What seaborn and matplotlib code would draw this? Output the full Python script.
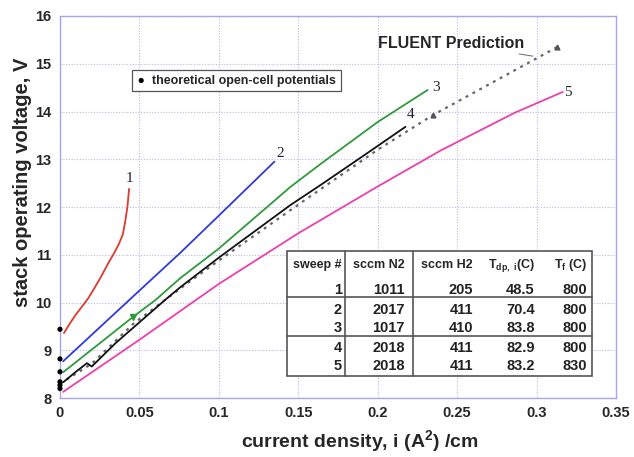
import pandas as pd
import numpy as np
import matplotlib.pyplot as plt
import seaborn as sns

# ── Data ────────────────────────────────────────────────────
sweep1_i = [0.0025, 0.006, 0.01, 0.014, 0.018, 0.022, 0.026, 0.03, 0.034,
            0.037, 0.0395, 0.041, 0.0425, 0.0435]
sweep1_v = [9.36, 9.55, 9.75, 9.92, 10.1, 10.32, 10.55, 10.8, 11.03,
            11.22, 11.42, 11.68, 12.02, 12.38]

sweep2_i = [0.002, 0.05, 0.0757, 0.1, 0.135]
sweep2_v = [8.77, 10.25, 11.04, 11.82, 12.95]

sweep3_i = [0.002, 0.046, 0.06, 0.0757, 0.1, 0.145, 0.164, 0.2, 0.2314]
sweep3_v = [8.54, 9.7, 10.05, 10.51, 11.13, 12.42, 12.9, 13.78, 14.45]

sweep4_i = [0.002, 0.01, 0.017, 0.02, 0.035, 0.066, 0.0757, 0.1, 0.145, 0.164, 0.19, 0.2175]
sweep4_v = [8.33, 8.55, 8.73, 8.66, 9.15, 10.05, 10.32, 10.94, 12.04, 12.46, 13.05, 13.68]

sweep5_i = [0.002, 0.05, 0.1, 0.15, 0.2, 0.24, 0.286, 0.3165]
sweep5_v = [8.13, 9.22, 10.39, 11.45, 12.43, 13.19, 13.97, 14.41]

fluent_i = [0.0, 0.02, 0.046, 0.078, 0.1, 0.15, 0.2, 0.235, 0.313]
fluent_v = [8.3, 8.72, 9.55, 10.35, 10.88, 12.05, 13.2, 13.93, 15.35]

ocv_i = [0.0, 0.0, 0.0, 0.0, 0.0, 0.0]
ocv_v = [9.44, 8.82, 8.55, 8.34, 8.27, 8.2]

sweep_names = ['1', '2', '3', '4', '5']
sweep_colors = ['#dd3a30', '#2f3bd8', '#2f9a3c', '#111111', '#ec3fae']

# table contents
tab_header = ['sweep #', 'sccm N2', 'sccm H2', r'T$_{\rm dp,\ i}$(C)', r'T$_{\rm f}$ (C)']
tab_sweep = ['1', '2', '3', '4', '5']
tab_n2 = ['1011', '2017', '1017', '2018', '2018']
tab_h2 = ['205', '411', '410', '411', '411']
tab_tdp = ['48.5', '70.4', '83.8', '82.9', '83.2']
tab_tf = ['800', '800', '800', '800', '830']

# ── Build long-form frame ───────────────────────────────────
frames = []
for name, ii, vv in zip(sweep_names,
                        [sweep1_i, sweep2_i, sweep3_i, sweep4_i, sweep5_i],
                        [sweep1_v, sweep2_v, sweep3_v, sweep4_v, sweep5_v]):
    frames.append(pd.DataFrame({'i': ii, 'V': vv, 'sweep': name}))
df = pd.concat(frames, ignore_index=True)
df_fluent = pd.DataFrame({'i': fluent_i, 'V': fluent_v})
df_ocv = pd.DataFrame({'i': ocv_i, 'V': ocv_v})

# ── Style ───────────────────────────────────────────────────
sns.set_theme(style="whitegrid")
plt.rcParams['font.family'] = ['Liberation Sans', 'DejaVu Sans']
plt.rcParams['mathtext.fontset'] = 'custom'
plt.rcParams['mathtext.rm'] = 'Liberation Sans:bold'
plt.rcParams['mathtext.default'] = 'rm'

fig = plt.figure(figsize=(6.34, 4.57), dpi=100)
ax = fig.add_axes([0.0946, 0.129, 0.877, 0.836])
ax.set_facecolor('white')

# FLUENT dotted prediction (under the sweeps)
sns.lineplot(data=df_fluent, x='i', y='V', ax=ax, color='#666666',
             linestyle=(0, (1.3, 2.2)), linewidth=1.6, sort=False,
             legend=False, zorder=2)
ax.plot(fluent_i[-2:], fluent_v[-2:], linestyle='none', marker='^',
        markersize=3.5, color='#555555', zorder=3)

sns.lineplot(data=df, x='i', y='V', hue='sweep', palette=sweep_colors,
             ax=ax, linewidth=1.3, sort=False, legend=False, zorder=3)

# green marker on sweep 3
ax.plot(sweep3_i[1], sweep3_v[1], marker='v', markersize=4,
        color=sweep_colors[2], zorder=4)

# theoretical open-cell potentials
sns.scatterplot(data=df_ocv, x='i', y='V', ax=ax, color='black', s=14,
                edgecolor='none', zorder=5, clip_on=False,
                label='theoretical open-cell potentials')

# ── Axes ────────────────────────────────────────────────────
ax.set_xlim(0, 0.35)
ax.set_ylim(8, 16)
ax.set_xticks([0, 0.05, 0.1, 0.15, 0.2, 0.25, 0.3, 0.35])
ax.set_xticklabels(['0', '0.05', '0.1', '0.15', '0.2', '0.25', '0.3', '0.35'])
ax.set_yticks(range(8, 17))
ax.tick_params(length=0, labelsize=10.5, pad=6)
for lab in ax.get_xticklabels() + ax.get_yticklabels():
    lab.set_fontweight('bold')
ax.grid(True, color='#b9b9e6', linestyle=(0, (1, 1.5)), linewidth=0.8)
for sp in ax.spines.values():
    sp.set_color('#a6a6e8')
    sp.set_linewidth(1.0)

ax.set_xlabel('current density, i (A$^2$) /cm', fontsize=14, fontweight='bold')
ax.xaxis.set_label_coords(0.54, -0.078)
ax.set_ylabel('stack operating voltage, V', fontsize=14.5, fontweight='bold')
ax.yaxis.set_label_coords(-0.05, 0.565)

leg = ax.legend(loc='upper left', bbox_to_anchor=(0.118, 0.874),
                fancybox=False, framealpha=1, edgecolor='#555555',
                handlelength=0.8, handletextpad=0.5, borderpad=0.35,
                prop={'size': 9, 'weight': 'bold'})
leg.get_frame().set_linewidth(0.9)

# curve numbers
num_pos_i = [0.0435, 0.1387, 0.237, 0.221, 0.320]
num_pos_v = [12.6, 13.13, 14.51, 13.93, 14.39]
for name, xi, yi in zip(sweep_names, num_pos_i, num_pos_v):
    ax.text(xi, yi, name, fontsize=11, family='Liberation Serif',
            ha='center', va='center', color='#222222')

ax.annotate('FLUENT Prediction', xy=(0.2976, 15.16), xytext=(0.246, 15.43),
            fontsize=11.5, fontweight='bold', ha='center', va='center',
            arrowprops=dict(arrowstyle='-', color='#777777', lw=0.8,
                            shrinkA=30, shrinkB=0))

# ── Table inset ─────────────────────────────────────────────
x0, x1, y0, y1 = 0.408, 0.957, 0.0576, 0.385
ax.add_patch(plt.Rectangle((x0, y0), x1 - x0, y1 - y0, transform=ax.transAxes,
                           facecolor='white', edgecolor='#555555', lw=1.2,
                           zorder=6))
for xv in [0.5126, 0.635]:
    ax.plot([xv, xv], [y0, y1], transform=ax.transAxes, color='#555555',
            lw=1.2, zorder=7)
for yv in [0.2644, 0.1623]:
    ax.plot([x0, x1], [yv, yv], transform=ax.transAxes, color='#555555',
            lw=1.2, zorder=7)

col_right = [0.507, 0.6205, 0.743, 0.854, 0.948]
row_y = [0.348, 0.283, 0.230, 0.183, 0.131, 0.0838]
for c, txt in enumerate(tab_header):
    ax.text(col_right[c], row_y[0], txt, transform=ax.transAxes, ha='right',
            va='center', fontsize=9, fontweight='bold', zorder=8)
columns = [tab_sweep, tab_n2, tab_h2, tab_tdp, tab_tf]
for c, col in enumerate(columns):
    for r, txt in enumerate(col):
        ax.text(col_right[c], row_y[r + 1], txt, transform=ax.transAxes,
                ha='right', va='center', fontsize=10.5, fontweight='bold',
                color='#222222', zorder=8)

plt.savefig('out.png', dpi=100)
